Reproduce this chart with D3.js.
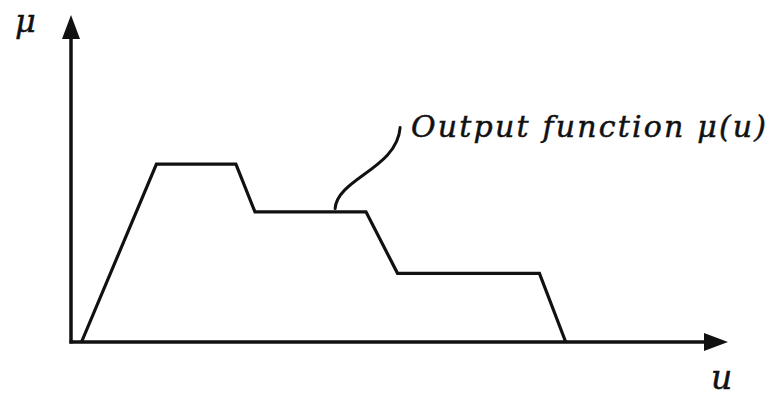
<!DOCTYPE html>
<html>
<head>
<meta charset="utf-8">
<script src="https://cdn.jsdelivr.net/npm/d3@7"></script>
<style>
  html, body { margin: 0; padding: 0; background: #fff; }
  svg { display: block; }
  .lbl { font-family: "DejaVu Serif", "Liberation Serif", serif; font-style: italic; fill: #111; stroke: #111; stroke-width: 0.5; }
</style>
</head>
<body>
<svg id="chart" width="772" height="396"></svg>
<script>
// Aggregated output membership function: breakpoints (u, μ)
const uValues  = [0.16, 1.30, 2.51, 2.80, 4.49, 4.97, 7.13, 7.53];
const muValues = [0.00, 0.544, 0.544, 0.398, 0.398, 0.210, 0.210, 0.00];

// Axis extents and labels
const uDomain = [0, 10];
const muDomain = [0, 1];
const axisLabels = { x: "u", y: "μ" };
const curveLabel = "Output function μ(u)";
// Point on the curve where the callout leader attaches
const calloutAnchor = { u: 4.02, mu: 0.408 };

const svg = d3.select("#chart");
const x = d3.scaleLinear().domain(uDomain).range([71, 728]);
const y = d3.scaleLinear().domain(muDomain).range([342, 15]);

const ink = "#111";

// Axes with arrowheads
const ox = x(uDomain[0]), oy = y(muDomain[0]);
const xEnd = x(uDomain[1]), yEnd = y(muDomain[1]);
const headLen = 24, headHalf = 9;

svg.append("line")
  .attr("x1", ox).attr("y1", oy + 1.5)
  .attr("x2", ox).attr("y2", yEnd + headLen - 2)
  .attr("stroke", ink).attr("stroke-width", 3.5);
svg.append("line")
  .attr("x1", ox - 1.5).attr("y1", oy)
  .attr("x2", xEnd - headLen + 2).attr("y2", oy)
  .attr("stroke", ink).attr("stroke-width", 3.5);

svg.append("path")
  .attr("d", `M${ox},${yEnd} L${ox - headHalf},${yEnd + headLen} L${ox + headHalf},${yEnd + headLen} Z`)
  .attr("fill", ink);
svg.append("path")
  .attr("d", `M${xEnd},${oy} L${xEnd - headLen},${oy - headHalf} L${xEnd - headLen},${oy + headHalf} Z`)
  .attr("fill", ink);

// Membership function polyline
const pts = uValues.map((u, i) => [u, muValues[i]]);
const line = d3.line().x(d => x(d[0])).y(d => y(d[1]));
svg.append("path")
  .datum(pts)
  .attr("d", line)
  .attr("fill", "none")
  .attr("stroke", ink)
  .attr("stroke-width", 3.2)
  .attr("stroke-linejoin", "miter");

// Callout leader
const ax = x(calloutAnchor.u), ay = y(calloutAnchor.mu);
svg.append("path")
  .attr("d", `M${ax},${ay} C${ax + 2},${ay - 30} ${ax + 62},${ay - 40} ${ax + 65},${ay - 81}`)
  .attr("fill", "none")
  .attr("stroke", ink)
  .attr("stroke-width", 3)
  .attr("stroke-linecap", "round");

// Labels
svg.append("text").attr("class", "lbl")
  .attr("x", 411).attr("y", 137)
  .attr("font-size", 30)
  .attr("textLength", 355)
  .attr("lengthAdjust", "spacing")
  .text(curveLabel);

svg.append("text").attr("class", "lbl")
  .attr("x", 15).attr("y", 32)
  .attr("font-size", 32)
  .text(axisLabels.y);

svg.append("text").attr("class", "lbl")
  .attr("x", 711).attr("y", 389)
  .attr("font-size", 33)
  .text(axisLabels.x);
</script>
</body>
</html>
